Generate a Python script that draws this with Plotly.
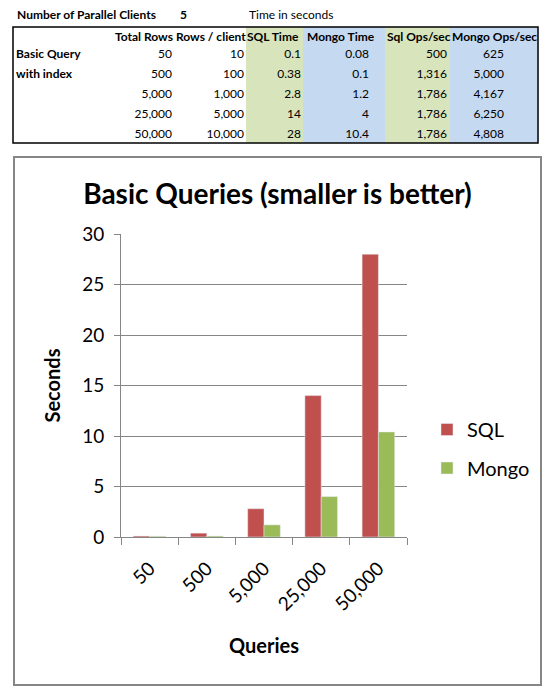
import plotly.graph_objects as go

# --- spreadsheet values ---
parallel_clients = 5
header = ["Total Rows", "Rows / client", "SQL Time", "Mongo Time", "Sql Ops/sec", "Mongo Ops/sec"]
row_labels = ["Basic Query", "with index", "", "", ""]
total_rows = [50, 500, 5000, 25000, 50000]
rows_per_client = [10, 100, 1000, 5000, 10000]
sql_time = [0.1, 0.38, 2.8, 14, 28]
mongo_time = [0.08, 0.1, 1.2, 4, 10.4]
sql_ops = [500, 1316, 1786, 1786, 1786]
mongo_ops = [625, 5000, 4167, 6250, 4808]

# --- chart labels ---
categories = [f"{n:,}" for n in total_rows]
y_ticks = [0, 5, 10, 15, 20, 25, 30]

W, H = 553, 693
OFF = 8  # page body margin, layout below is given in screen pixels
FONT = "Lato"
RED = "#C0504D"
GREEN = "#9BBB59"
FILL_GREEN = "#D7E4BC"
FILL_BLUE = "#C5D9F1"
GRID = "#868686"

# table layout (screen pixels)
TABLE_BOX = (13, 27, 538, 143)
fills = [(246, 303, FILL_GREEN), (303, 385, FILL_BLUE), (385, 450, FILL_GREEN), (450, 538, FILL_BLUE)]
header_x = [115, 176, 247, 307, 387, 452]
value_x = [172, 244, 301, 369, 447, 504]
label_x = 16
top_y = 16
header_y = 38
row_y = [55 + 20 * i for i in range(len(total_rows))]
TABLE_SIZE = 12


def fx(px):
    return (px - OFF) / W


def fy(py):
    return 1 - (py - OFF) / H


def fmt_num(v):
    return f"{v:,}"


def fmt_g(v):
    return f"{v:g}"


def table_text(x, y, text, pos, bold=False):
    return go.Scatter(x=x, y=y, text=text, mode="text", textposition=pos,
                      textfont=dict(family=FONT, size=TABLE_SIZE, color="black",
                                    weight="bold" if bold else "normal"),
                      xaxis="x2", yaxis="y2", showlegend=False, hoverinfo="skip",
                      cliponaxis=False)


fig = go.Figure()

# bar chart
fig.add_trace(go.Bar(x=categories, y=sql_time, name="SQL",
                     marker=dict(color=RED), legend="legend"))
fig.add_trace(go.Bar(x=categories, y=mongo_time, name="Mongo",
                     marker=dict(color=GREEN), legend="legend2"))

# spreadsheet text
fig.add_trace(table_text([17], [top_y], ["Number of Parallel Clients"], "middle right", True))
fig.add_trace(table_text([180], [top_y], [str(parallel_clients)], "middle right", True))
fig.add_trace(table_text([249], [top_y], ["Time in seconds"], "middle right"))
fig.add_trace(table_text(header_x, [header_y] * len(header), header, "middle right", True))
fig.add_trace(table_text([label_x] * len(row_labels), row_y, row_labels, "middle right", True))
columns = [
    [fmt_num(v) for v in total_rows],
    [fmt_num(v) for v in rows_per_client],
    [fmt_g(v) for v in sql_time],
    [fmt_g(v) for v in mongo_time],
    [fmt_num(v) for v in sql_ops],
    [fmt_num(v) for v in mongo_ops],
]
for cx, col in zip(value_x, columns):
    fig.add_trace(table_text([cx] * len(col), row_y, col, "middle left"))

shapes = []
for x0, x1, c in fills:
    shapes.append(dict(type="rect", xref="x2", yref="y2", x0=x0, x1=x1,
                       y0=TABLE_BOX[1], y1=TABLE_BOX[3], fillcolor=c,
                       line=dict(width=0), layer="below"))
shapes.append(dict(type="rect", xref="x2", yref="y2", x0=TABLE_BOX[0], y0=TABLE_BOX[1],
                   x1=TABLE_BOX[2], y1=TABLE_BOX[3], line=dict(color="black", width=1.5)))
# chart frame
shapes.append(dict(type="rect", xref="x2", yref="y2", x0=14, y0=157, x1=541, y1=685,
                   line=dict(color=GRID, width=2)))

fig.update_layout(
    width=W, height=H, autosize=False,
    margin=dict(l=0, r=0, t=0, b=0, autoexpand=False),
    paper_bgcolor="white", plot_bgcolor="rgba(0,0,0,0)",
    font=dict(family=FONT, size=19, color="black"),
    title=dict(text="Basic Queries (smaller is better)",
               font=dict(family=FONT, size=28, weight="bold", color="black"),
               x=fx(277.5), xanchor="center", y=fy(194), yanchor="middle"),
    bargap=0.43, bargroupgap=0,
    shapes=shapes,
    xaxis=dict(domain=[fx(121), fx(407)], type="category",
               tickson="boundaries", ticks="outside", ticklen=7, tickcolor=GRID,
               showline=True, linecolor=GRID, linewidth=1, showgrid=False,
               tickangle=-45, tickfont=dict(size=19), ticklabelstandoff=12,
               title=dict(text="Queries", font=dict(size=20, weight="bold"), standoff=25),
               fixedrange=True),
    yaxis=dict(domain=[fy(537), fy(234)], range=[0, 30], tickvals=y_ticks,
               showgrid=True, gridcolor=GRID, gridwidth=1, zeroline=False,
               showline=True, linecolor=GRID, linewidth=1,
               ticks="outside", ticklen=6, tickcolor=GRID,
               tickfont=dict(size=19), ticklabelstandoff=6,
               title=dict(text="Seconds", font=dict(size=20, weight="bold"), standoff=16),
               fixedrange=True),
    xaxis2=dict(domain=[0, 1], range=[OFF, W + OFF], visible=False, anchor="y2", fixedrange=True),
    yaxis2=dict(domain=[0, 1], range=[H + OFF, OFF], visible=False, anchor="x2", fixedrange=True),
    legend=dict(x=fx(427), xanchor="left", y=fy(429.5), yanchor="middle",
                bgcolor="rgba(0,0,0,0)", borderwidth=0, font=dict(size=20)),
    legend2=dict(x=fx(427), xanchor="left", y=fy(468), yanchor="middle",
                 bgcolor="rgba(0,0,0,0)", borderwidth=0, font=dict(size=20)),
)

fig.write_html("out.html")
